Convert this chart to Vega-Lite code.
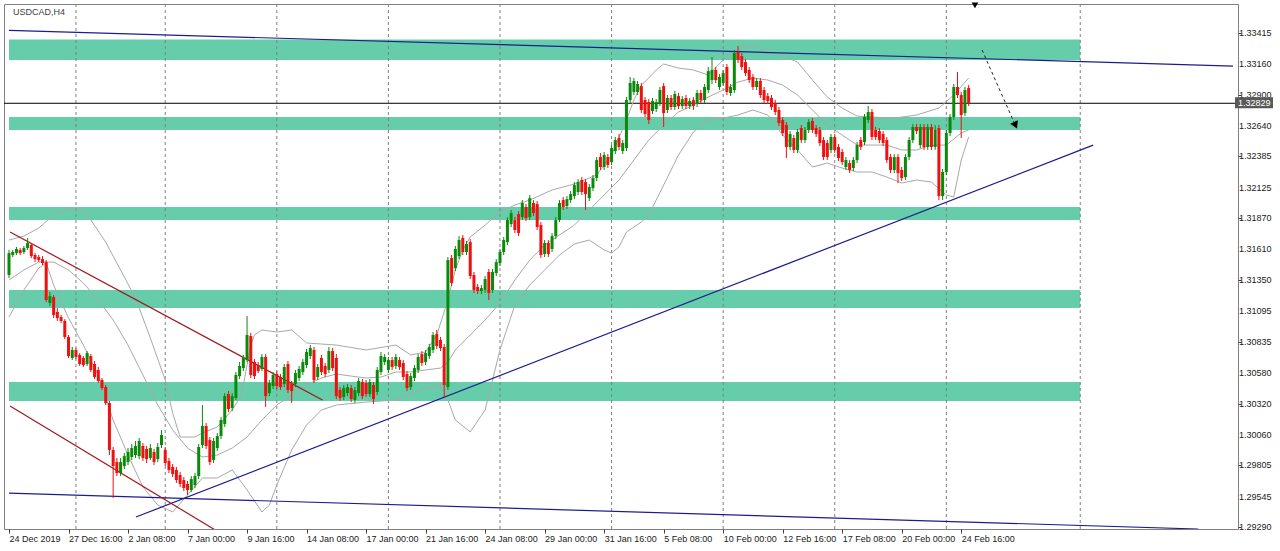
{
"$schema":"https://vega.github.io/schema/vega-lite/v6.json",
"width":1234,"height":525,
"autosize":{"type":"none"},
"padding":{"left":4,"top":4,"right":42,"bottom":22},
"background":"#ffffff",
"config":{"view":{"stroke":"#808080","strokeWidth":1},"axis":{"labelFont":"Liberation Sans","labelFontSize":9,"labelColor":"#1a1a1a","tickColor":"#404040","domain":false,"grid":false,"labelOverlap":false}},
"datasets":{
"zones":[{"x1":0,"x2":288,"p1":1.33361,"p2":1.3319},{"x1":0,"x2":288,"p1":1.32714,"p2":1.32606},{"x1":0,"x2":288,"p1":1.31963,"p2":1.31854},{"x1":0,"x2":288,"p1":1.3127,"p2":1.31119},{"x1":0,"x2":288,"p1":1.30501,"p2":1.30343}],
"grid":[{"i":18},{"i":42},{"i":72},{"i":102},{"i":132},{"i":162},{"i":192},{"i":222},{"i":252},{"i":288}],
"cur":[{"p":1.32829,"t":"1.32829"}],
"ylab":[{"p":1.33415,"t":"1.33415"},{"p":1.3316,"t":"1.33160"},{"p":1.329,"t":"1.32900"},{"p":1.3264,"t":"1.32640"},{"p":1.32385,"t":"1.32385"},{"p":1.32125,"t":"1.32125"},{"p":1.3187,"t":"1.31870"},{"p":1.3161,"t":"1.31610"},{"p":1.3135,"t":"1.31350"},{"p":1.31095,"t":"1.31095"},{"p":1.30835,"t":"1.30835"},{"p":1.3058,"t":"1.30580"},{"p":1.3032,"t":"1.30320"},{"p":1.3006,"t":"1.30060"},{"p":1.29805,"t":"1.29805"},{"p":1.29545,"t":"1.29545"},{"p":1.2929,"t":"1.29290"}],
"tl":[{"id":"top","k":"blue","i":0,"p":1.33438},{"id":"top","k":"blue","i":329.07,"p":1.3314},
{"id":"bot","k":"blue","i":0,"p":1.29574},{"id":"bot","k":"blue","i":319.7,"p":1.29274},
{"id":"rise","k":"blue","i":34.13,"p":1.29374},{"id":"rise","k":"blue","i":291.47,"p":1.3248},
{"id":"r1","k":"red","i":0.27,"p":1.31754},{"id":"r1","k":"red","i":84.27,"p":1.30351},
{"id":"r2","k":"red","i":0.27,"p":1.30301},{"id":"r2","k":"red","i":60,"p":1.2918}],
"arrow":[{"i":261.6,"p":1.33274},{"i":270.9,"p":1.32622}],
"head":[{"i":270.6,"p":1.32645}],
"marker":[{"i":259.7,"p":1.33646}],
"bb":[
{"b":"u","i":0,"p":1.31687},{"b":"u","i":4,"p":1.3172},{"b":"u","i":8,"p":1.31787},{"b":"u","i":12,"p":1.31896},{"b":"u","i":16,"p":1.31954},{"b":"u","i":20,"p":1.31921},{"b":"u","i":22,"p":1.31854},{"b":"u","i":26,"p":1.3167},{"b":"u","i":30,"p":1.31437},{"b":"u","i":34,"p":1.31203},{"b":"u","i":38,"p":1.30869},{"b":"u","i":42,"p":1.30518},{"b":"u","i":44,"p":1.30242},{"b":"u","i":46,"p":1.30042},{"b":"u","i":50,"p":1.30042},{"b":"u","i":52,"p":1.30076},{"b":"u","i":56,"p":1.30126},{"b":"u","i":60,"p":1.30268},{"b":"u","i":62,"p":1.30368},{"b":"u","i":63,"p":1.30476},{"b":"u","i":64,"p":1.30643},{"b":"u","i":65,"p":1.3081},{"b":"u","i":66,"p":1.30894},{"b":"u","i":68,"p":1.30936},{"b":"u","i":72,"p":1.30919},{"b":"u","i":76,"p":1.30936},{"b":"u","i":80,"p":1.30827},{"b":"u","i":88,"p":1.3081},{"b":"u","i":96,"p":1.30769},{"b":"u","i":104,"p":1.3081},{"b":"u","i":108,"p":1.30727},{"b":"u","i":112,"p":1.30752},{"b":"u","i":115,"p":1.30894},{"b":"u","i":118,"p":1.31186},{"b":"u","i":120,"p":1.31437},{"b":"u","i":122,"p":1.31604},{"b":"u","i":124,"p":1.31712},{"b":"u","i":128,"p":1.31812},{"b":"u","i":132,"p":1.31921},{"b":"u","i":136,"p":1.31979},{"b":"u","i":140,"p":1.32021},{"b":"u","i":146,"p":1.32105},{"b":"u","i":152,"p":1.32155},{"b":"u","i":158,"p":1.3223},{"b":"u","i":162,"p":1.32397},{"b":"u","i":166,"p":1.32689},{"b":"u","i":168,"p":1.32856},{"b":"u","i":170,"p":1.32981},{"b":"u","i":172,"p":1.3304},{"b":"u","i":174,"p":1.33107},{"b":"u","i":176,"p":1.33157},{"b":"u","i":180,"p":1.33123},{"b":"u","i":184,"p":1.33107},{"b":"u","i":188,"p":1.33065},{"b":"u","i":192,"p":1.3319},{"b":"u","i":196,"p":1.3329},{"b":"u","i":200,"p":1.33307},{"b":"u","i":204,"p":1.33274},{"b":"u","i":208,"p":1.33223},{"b":"u","i":212,"p":1.33173},{"b":"u","i":216,"p":1.33023},{"b":"u","i":220,"p":1.32881},{"b":"u","i":224,"p":1.32789},{"b":"u","i":228,"p":1.32722},{"b":"u","i":232,"p":1.32714},{"b":"u","i":238,"p":1.32705},{"b":"u","i":244,"p":1.32731},{"b":"u","i":250,"p":1.32789},{"b":"u","i":254,"p":1.32898},{"b":"u","i":258,"p":1.3304},
{"b":"m","i":0,"p":1.31353},{"b":"m","i":4,"p":1.31437},{"b":"m","i":8,"p":1.31503},{"b":"m","i":12,"p":1.31503},{"b":"m","i":16,"p":1.31437},{"b":"m","i":20,"p":1.31328},{"b":"m","i":24,"p":1.31186},{"b":"m","i":28,"p":1.31019},{"b":"m","i":32,"p":1.3081},{"b":"m","i":36,"p":1.3056},{"b":"m","i":40,"p":1.30309},{"b":"m","i":44,"p":1.30101},{"b":"m","i":48,"p":1.2995},{"b":"m","i":52,"p":1.29875},{"b":"m","i":56,"p":1.29892},{"b":"m","i":60,"p":1.2995},{"b":"m","i":64,"p":1.30042},{"b":"m","i":68,"p":1.30184},{"b":"m","i":72,"p":1.30309},{"b":"m","i":76,"p":1.30393},{"b":"m","i":80,"p":1.30476},{"b":"m","i":84,"p":1.30535},{"b":"m","i":88,"p":1.30568},{"b":"m","i":92,"p":1.30551},{"b":"m","i":96,"p":1.30535},{"b":"m","i":100,"p":1.30543},{"b":"m","i":104,"p":1.30585},{"b":"m","i":108,"p":1.30585},{"b":"m","i":112,"p":1.30602},{"b":"m","i":116,"p":1.30618},{"b":"m","i":118,"p":1.30668},{"b":"m","i":120,"p":1.30769},{"b":"m","i":124,"p":1.30894},{"b":"m","i":128,"p":1.31019},{"b":"m","i":132,"p":1.31161},{"b":"m","i":136,"p":1.31353},{"b":"m","i":140,"p":1.3152},{"b":"m","i":144,"p":1.31645},{"b":"m","i":148,"p":1.31729},{"b":"m","i":152,"p":1.31812},{"b":"m","i":156,"p":1.31938},{"b":"m","i":160,"p":1.32063},{"b":"m","i":164,"p":1.32188},{"b":"m","i":168,"p":1.32355},{"b":"m","i":172,"p":1.32522},{"b":"m","i":176,"p":1.32647},{"b":"m","i":180,"p":1.32756},{"b":"m","i":184,"p":1.32814},{"b":"m","i":188,"p":1.32881},{"b":"m","i":192,"p":1.3294},{"b":"m","i":196,"p":1.33006},{"b":"m","i":200,"p":1.3304},{"b":"m","i":204,"p":1.33023},{"b":"m","i":208,"p":1.32981},{"b":"m","i":212,"p":1.32898},{"b":"m","i":216,"p":1.32773},{"b":"m","i":220,"p":1.32647},{"b":"m","i":224,"p":1.32564},{"b":"m","i":228,"p":1.3248},{"b":"m","i":232,"p":1.3248},{"b":"m","i":236,"p":1.3248},{"b":"m","i":240,"p":1.32439},{"b":"m","i":244,"p":1.32439},{"b":"m","i":248,"p":1.3248},{"b":"m","i":252,"p":1.3248},{"b":"m","i":256,"p":1.32581},{"b":"m","i":258,"p":1.32606},
{"b":"l","i":0,"p":1.31044},{"b":"l","i":4,"p":1.3127},{"b":"l","i":8,"p":1.31453},{"b":"l","i":10,"p":1.31495},{"b":"l","i":12,"p":1.31311},{"b":"l","i":16,"p":1.31036},{"b":"l","i":20,"p":1.3081},{"b":"l","i":24,"p":1.3056},{"b":"l","i":28,"p":1.30184},{"b":"l","i":32,"p":1.29892},{"b":"l","i":36,"p":1.29625},{"b":"l","i":40,"p":1.29474},{"b":"l","i":44,"p":1.29416},{"b":"l","i":48,"p":1.29558},{"b":"l","i":52,"p":1.297},{"b":"l","i":56,"p":1.297},{"b":"l","i":60,"p":1.29767},{"b":"l","i":64,"p":1.296},{"b":"l","i":68,"p":1.29416},{"b":"l","i":70,"p":1.29474},{"b":"l","i":72,"p":1.29641},{"b":"l","i":76,"p":1.29934},{"b":"l","i":80,"p":1.30142},{"b":"l","i":84,"p":1.30268},{"b":"l","i":88,"p":1.30309},{"b":"l","i":96,"p":1.30334},{"b":"l","i":104,"p":1.30351},{"b":"l","i":112,"p":1.30451},{"b":"l","i":116,"p":1.30476},{"b":"l","i":118,"p":1.30351},{"b":"l","i":120,"p":1.30184},{"b":"l","i":124,"p":1.30084},{"b":"l","i":128,"p":1.30268},{"b":"l","i":132,"p":1.30769},{"b":"l","i":136,"p":1.31144},{"b":"l","i":140,"p":1.31311},{"b":"l","i":144,"p":1.31437},{"b":"l","i":148,"p":1.31562},{"b":"l","i":152,"p":1.31654},{"b":"l","i":156,"p":1.31687},{"b":"l","i":160,"p":1.31604},{"b":"l","i":162,"p":1.31578},{"b":"l","i":164,"p":1.31629},{"b":"l","i":166,"p":1.31754},{"b":"l","i":170,"p":1.31837},{"b":"l","i":172,"p":1.31896},{"b":"l","i":176,"p":1.32146},{"b":"l","i":180,"p":1.32397},{"b":"l","i":184,"p":1.32589},{"b":"l","i":188,"p":1.32689},{"b":"l","i":192,"p":1.32705},{"b":"l","i":196,"p":1.32731},{"b":"l","i":200,"p":1.32773},{"b":"l","i":204,"p":1.32731},{"b":"l","i":208,"p":1.32564},{"b":"l","i":212,"p":1.32439},{"b":"l","i":216,"p":1.32297},{"b":"l","i":220,"p":1.3233},{"b":"l","i":224,"p":1.32288},{"b":"l","i":228,"p":1.32255},{"b":"l","i":232,"p":1.32255},{"b":"l","i":236,"p":1.32213},{"b":"l","i":240,"p":1.32163},{"b":"l","i":244,"p":1.32188},{"b":"l","i":248,"p":1.32171},{"b":"l","i":252,"p":1.32063},{"b":"l","i":254,"p":1.32046},{"b":"l","i":256,"p":1.32355},{"b":"l","i":258,"p":1.32547}],
"candles":[
{"i":0,"o":1.31395,"h":1.31604,"l":1.3137,"c":1.31578},{"i":1,"o":1.31562,"h":1.31604,"l":1.31545,"c":1.31587},{"i":2,"o":1.31578,"h":1.31629,"l":1.31562,"c":1.31612},{"i":3,"o":1.31604,"h":1.3162,"l":1.31562,"c":1.31578},{"i":4,"o":1.31587,"h":1.31637,"l":1.3157,"c":1.3162},{"i":5,"o":1.3162,"h":1.31704,"l":1.31604,"c":1.31662},{"i":6,"o":1.31645,"h":1.31662,"l":1.31537,"c":1.31553},{"i":7,"o":1.31562,"h":1.31578,"l":1.31503,"c":1.31528},{"i":8,"o":1.31545,"h":1.31562,"l":1.31503,"c":1.3152},{"i":9,"o":1.31528,"h":1.31553,"l":1.31478,"c":1.31495},
{"i":10,"o":1.31503,"h":1.3152,"l":1.31169,"c":1.31186},{"i":11,"o":1.31161,"h":1.31253,"l":1.31136,"c":1.31219},{"i":12,"o":1.31211,"h":1.31228,"l":1.31036,"c":1.31061},{"i":13,"o":1.31086,"h":1.31119,"l":1.31011,"c":1.31036},{"i":14,"o":1.31044,"h":1.31061,"l":1.30994,"c":1.31011},{"i":15,"o":1.31011,"h":1.31027,"l":1.3086,"c":1.30877},{"i":16,"o":1.30877,"h":1.30894,"l":1.30702,"c":1.30718},{"i":17,"o":1.30702,"h":1.30794,"l":1.30685,"c":1.30769},{"i":18,"o":1.30769,"h":1.30785,"l":1.30693,"c":1.3071},{"i":19,"o":1.30727,"h":1.30743,"l":1.30635,"c":1.30652},
{"i":20,"o":1.30702,"h":1.30718,"l":1.30627,"c":1.30643},{"i":21,"o":1.30652,"h":1.3076,"l":1.30635,"c":1.30743},{"i":22,"o":1.30718,"h":1.30735,"l":1.30585,"c":1.30602},{"i":23,"o":1.30652,"h":1.30677,"l":1.30526,"c":1.30543},{"i":24,"o":1.30602,"h":1.30627,"l":1.30493,"c":1.3051},{"i":25,"o":1.30518,"h":1.30535,"l":1.30435,"c":1.30451},{"i":26,"o":1.30459,"h":1.30476,"l":1.30309,"c":1.30326},{"i":27,"o":1.30326,"h":1.30343,"l":1.29892,"c":1.29934},{"i":28,"o":1.29934,"h":1.29959,"l":1.29533,"c":1.298},{"i":29,"o":1.29833,"h":1.29867,"l":1.29716,"c":1.29741},
{"i":30,"o":1.29741,"h":1.29867,"l":1.29716,"c":1.29833},{"i":31,"o":1.298,"h":1.29909,"l":1.29775,"c":1.29883},{"i":32,"o":1.29833,"h":1.2995,"l":1.29808,"c":1.29917},{"i":33,"o":1.29875,"h":1.29984,"l":1.2985,"c":1.2995},{"i":34,"o":1.29892,"h":1.30009,"l":1.29867,"c":1.29967},{"i":35,"o":1.29883,"h":1.30034,"l":1.29858,"c":1.30009},{"i":36,"o":1.29967,"h":1.29992,"l":1.29842,"c":1.29867},{"i":37,"o":1.29942,"h":1.29967,"l":1.29825,"c":1.29858},{"i":38,"o":1.29867,"h":1.29984,"l":1.2985,"c":1.2995},{"i":39,"o":1.29917,"h":1.29942,"l":1.29808,"c":1.29833},
{"i":40,"o":1.29858,"h":1.29992,"l":1.29833,"c":1.29959},{"i":41,"o":1.29975,"h":1.30101,"l":1.2995,"c":1.30059},{"i":42,"o":1.29934,"h":1.29959,"l":1.298,"c":1.29825},{"i":43,"o":1.29842,"h":1.29867,"l":1.29741,"c":1.29767},{"i":44,"o":1.29792,"h":1.29817,"l":1.29708,"c":1.29733},{"i":45,"o":1.29767,"h":1.29792,"l":1.29658,"c":1.29683},{"i":46,"o":1.29725,"h":1.2975,"l":1.29625,"c":1.2965},{"i":47,"o":1.29683,"h":1.29708,"l":1.29591,"c":1.29616},{"i":48,"o":1.2965,"h":1.29675,"l":1.29558,"c":1.296},{"i":49,"o":1.296,"h":1.29716,"l":1.29583,"c":1.29691},
{"i":50,"o":1.29641,"h":1.29741,"l":1.29616,"c":1.29716},{"i":51,"o":1.29716,"h":1.29984,"l":1.29691,"c":1.29959},{"i":52,"o":1.29975,"h":1.30309,"l":1.2995,"c":1.30134},{"i":53,"o":1.30134,"h":1.30159,"l":1.29942,"c":1.29967},{"i":54,"o":1.30017,"h":1.30042,"l":1.29808,"c":1.29833},{"i":55,"o":1.2985,"h":1.30034,"l":1.29825,"c":1.30009},{"i":56,"o":1.2995,"h":1.30075,"l":1.29925,"c":1.3005},{"i":57,"o":1.3005,"h":1.30209,"l":1.30025,"c":1.30184},{"i":58,"o":1.30151,"h":1.30409,"l":1.30126,"c":1.30384},{"i":59,"o":1.30401,"h":1.30426,"l":1.30251,"c":1.30276},
{"i":60,"o":1.30284,"h":1.30409,"l":1.30259,"c":1.30384},{"i":61,"o":1.30368,"h":1.30585,"l":1.30351,"c":1.3056},{"i":62,"o":1.30551,"h":1.30668,"l":1.30526,"c":1.30635},{"i":63,"o":1.30618,"h":1.30727,"l":1.30593,"c":1.30702},{"i":64,"o":1.30685,"h":1.31052,"l":1.30668,"c":1.30894},{"i":65,"o":1.30885,"h":1.30911,"l":1.30535,"c":1.3056},{"i":66,"o":1.30668,"h":1.30693,"l":1.30526,"c":1.30551},{"i":67,"o":1.30643,"h":1.30668,"l":1.30576,"c":1.30593},{"i":68,"o":1.3061,"h":1.30735,"l":1.30593,"c":1.3071},{"i":69,"o":1.3071,"h":1.30735,"l":1.30293,"c":1.30384},
{"i":70,"o":1.30409,"h":1.30518,"l":1.30384,"c":1.30493},{"i":71,"o":1.30468,"h":1.30585,"l":1.30443,"c":1.3056},{"i":72,"o":1.30568,"h":1.30593,"l":1.30443,"c":1.30468},{"i":73,"o":1.30543,"h":1.30568,"l":1.30435,"c":1.30459},{"i":74,"o":1.30485,"h":1.30652,"l":1.30459,"c":1.30627},{"i":75,"o":1.30652,"h":1.30677,"l":1.30409,"c":1.30435},{"i":76,"o":1.30485,"h":1.3051,"l":1.30326,"c":1.30426},{"i":77,"o":1.30485,"h":1.30602,"l":1.30459,"c":1.30576},{"i":78,"o":1.30535,"h":1.30635,"l":1.3051,"c":1.3061},{"i":79,"o":1.30585,"h":1.30693,"l":1.3056,"c":1.30668},
{"i":80,"o":1.30643,"h":1.30777,"l":1.30618,"c":1.30752},{"i":81,"o":1.30718,"h":1.3081,"l":1.30693,"c":1.30785},{"i":82,"o":1.30769,"h":1.30794,"l":1.30493,"c":1.30518},{"i":83,"o":1.30543,"h":1.30652,"l":1.30518,"c":1.30627},{"i":84,"o":1.30702,"h":1.30727,"l":1.3056,"c":1.30585},{"i":85,"o":1.30635,"h":1.3066,"l":1.30543,"c":1.30568},{"i":86,"o":1.30602,"h":1.30794,"l":1.30576,"c":1.3076},{"i":87,"o":1.3076,"h":1.30785,"l":1.30593,"c":1.30618},{"i":88,"o":1.30702,"h":1.30735,"l":1.30359,"c":1.30384},{"i":89,"o":1.30435,"h":1.30459,"l":1.30343,"c":1.30368},
{"i":90,"o":1.30376,"h":1.30476,"l":1.30351,"c":1.30451},{"i":91,"o":1.30409,"h":1.30485,"l":1.30384,"c":1.30459},{"i":92,"o":1.30451,"h":1.30476,"l":1.30334,"c":1.30359},{"i":93,"o":1.30351,"h":1.30459,"l":1.30326,"c":1.30435},{"i":94,"o":1.30409,"h":1.30535,"l":1.30384,"c":1.3051},{"i":95,"o":1.30501,"h":1.30526,"l":1.30359,"c":1.30384},{"i":96,"o":1.30493,"h":1.30518,"l":1.30376,"c":1.30401},{"i":97,"o":1.30401,"h":1.30526,"l":1.30376,"c":1.30501},{"i":98,"o":1.30476,"h":1.30501,"l":1.30318,"c":1.30359},{"i":99,"o":1.30418,"h":1.30627,"l":1.30393,"c":1.30602},
{"i":100,"o":1.30585,"h":1.30752,"l":1.3056,"c":1.30718},{"i":101,"o":1.30668,"h":1.30735,"l":1.30643,"c":1.3071},{"i":102,"o":1.30602,"h":1.3071,"l":1.30576,"c":1.30685},{"i":103,"o":1.30685,"h":1.3071,"l":1.30602,"c":1.30627},{"i":104,"o":1.30635,"h":1.30735,"l":1.3061,"c":1.3071},{"i":105,"o":1.30685,"h":1.3071,"l":1.30602,"c":1.30627},{"i":106,"o":1.3066,"h":1.30685,"l":1.30518,"c":1.30543},{"i":107,"o":1.30568,"h":1.30593,"l":1.30426,"c":1.30451},{"i":108,"o":1.30459,"h":1.30576,"l":1.30435,"c":1.30551},{"i":109,"o":1.30535,"h":1.30643,"l":1.3051,"c":1.30618},
{"i":110,"o":1.30602,"h":1.30735,"l":1.30576,"c":1.3071},{"i":111,"o":1.30735,"h":1.3076,"l":1.30635,"c":1.3066},{"i":112,"o":1.30668,"h":1.30769,"l":1.30643,"c":1.30743},{"i":113,"o":1.30718,"h":1.30819,"l":1.30693,"c":1.30794},{"i":114,"o":1.30769,"h":1.30919,"l":1.30743,"c":1.30894},{"i":115,"o":1.30902,"h":1.30936,"l":1.30777,"c":1.30802},{"i":116,"o":1.30852,"h":1.30877,"l":1.3076,"c":1.30785},{"i":117,"o":1.30794,"h":1.30819,"l":1.30376,"c":1.30476},{"i":118,"o":1.30459,"h":1.31545,"l":1.30435,"c":1.3152},{"i":119,"o":1.31537,"h":1.31562,"l":1.31303,"c":1.31328},
{"i":120,"o":1.31453,"h":1.31637,"l":1.31428,"c":1.31612},{"i":121,"o":1.31553,"h":1.3172,"l":1.31528,"c":1.31687},{"i":122,"o":1.31704,"h":1.31729,"l":1.31562,"c":1.31587},{"i":123,"o":1.31587,"h":1.31679,"l":1.31562,"c":1.31654},{"i":124,"o":1.3167,"h":1.31695,"l":1.31361,"c":1.31386},{"i":125,"o":1.31395,"h":1.3142,"l":1.31245,"c":1.3127},{"i":126,"o":1.31296,"h":1.3132,"l":1.31236,"c":1.31261},{"i":127,"o":1.31261,"h":1.31311,"l":1.31236,"c":1.31286},{"i":128,"o":1.3127,"h":1.31386,"l":1.31245,"c":1.31361},{"i":129,"o":1.3142,"h":1.31445,"l":1.31186,"c":1.31245},
{"i":130,"o":1.3127,"h":1.31445,"l":1.31245,"c":1.3142},{"i":131,"o":1.31411,"h":1.31528,"l":1.31386,"c":1.31503},{"i":132,"o":1.31495,"h":1.31612,"l":1.3147,"c":1.31587},{"i":133,"o":1.31587,"h":1.31712,"l":1.31562,"c":1.31687},{"i":134,"o":1.3167,"h":1.31879,"l":1.31645,"c":1.31854},{"i":135,"o":1.31821,"h":1.31938,"l":1.31796,"c":1.31912},{"i":136,"o":1.31854,"h":1.31879,"l":1.31745,"c":1.31771},{"i":137,"o":1.31904,"h":1.31929,"l":1.3172,"c":1.31745},{"i":138,"o":1.31879,"h":1.32021,"l":1.31854,"c":1.31996},{"i":139,"o":1.31963,"h":1.31988,"l":1.31845,"c":1.31871},
{"i":140,"o":1.31879,"h":1.32063,"l":1.31854,"c":1.32037},{"i":141,"o":1.31996,"h":1.32021,"l":1.31887,"c":1.31912},{"i":142,"o":1.31988,"h":1.32013,"l":1.31771,"c":1.31796},{"i":143,"o":1.31812,"h":1.31837,"l":1.31537,"c":1.31562},{"i":144,"o":1.3157,"h":1.31687,"l":1.31545,"c":1.31662},{"i":145,"o":1.31662,"h":1.31687,"l":1.31545,"c":1.3157},{"i":146,"o":1.31612,"h":1.31745,"l":1.31587,"c":1.3172},{"i":147,"o":1.3172,"h":1.31879,"l":1.31695,"c":1.31854},{"i":148,"o":1.31854,"h":1.32021,"l":1.31837,"c":1.31996},{"i":149,"o":1.32021,"h":1.32046,"l":1.31938,"c":1.31963},
{"i":150,"o":1.31971,"h":1.32054,"l":1.31946,"c":1.32029},{"i":151,"o":1.32021,"h":1.32096,"l":1.31996,"c":1.32071},{"i":152,"o":1.32054,"h":1.32171,"l":1.32029,"c":1.32146},{"i":153,"o":1.32088,"h":1.32196,"l":1.32063,"c":1.32171},{"i":154,"o":1.32188,"h":1.32213,"l":1.32063,"c":1.32088},{"i":155,"o":1.32171,"h":1.32196,"l":1.31938,"c":1.32071},{"i":156,"o":1.32037,"h":1.32155,"l":1.32013,"c":1.3213},{"i":157,"o":1.32121,"h":1.3223,"l":1.32096,"c":1.32205},{"i":158,"o":1.32205,"h":1.3238,"l":1.3218,"c":1.32355},{"i":159,"o":1.3238,"h":1.32413,"l":1.32272,"c":1.32297},
{"i":160,"o":1.32297,"h":1.32422,"l":1.32272,"c":1.32397},{"i":161,"o":1.3238,"h":1.32405,"l":1.32288,"c":1.32313},{"i":162,"o":1.32338,"h":1.3248,"l":1.32313,"c":1.32455},{"i":163,"o":1.3243,"h":1.32547,"l":1.32405,"c":1.32522},{"i":164,"o":1.32539,"h":1.32572,"l":1.32439,"c":1.32464},{"i":165,"o":1.3243,"h":1.32522,"l":1.32405,"c":1.32497},{"i":166,"o":1.32455,"h":1.32881,"l":1.3243,"c":1.32856},{"i":167,"o":1.32856,"h":1.33048,"l":1.32831,"c":1.32998},{"i":168,"o":1.32923,"h":1.3304,"l":1.32898,"c":1.33015},{"i":169,"o":1.32923,"h":1.33015,"l":1.32898,"c":1.3299},
{"i":170,"o":1.32973,"h":1.32998,"l":1.32747,"c":1.32773},{"i":171,"o":1.32856,"h":1.32881,"l":1.32714,"c":1.32739},{"i":172,"o":1.32839,"h":1.32864,"l":1.32656,"c":1.32689},{"i":173,"o":1.32764,"h":1.32873,"l":1.32739,"c":1.32848},{"i":174,"o":1.32781,"h":1.32864,"l":1.32756,"c":1.32839},{"i":175,"o":1.32831,"h":1.32965,"l":1.32806,"c":1.3294},{"i":176,"o":1.32973,"h":1.32998,"l":1.32631,"c":1.32747},{"i":177,"o":1.32773,"h":1.32898,"l":1.32747,"c":1.32873},{"i":178,"o":1.32873,"h":1.32898,"l":1.32773,"c":1.32798},{"i":179,"o":1.32798,"h":1.32931,"l":1.32773,"c":1.32906},
{"i":180,"o":1.32889,"h":1.32915,"l":1.32781,"c":1.32806},{"i":181,"o":1.32806,"h":1.32889,"l":1.32781,"c":1.32864},{"i":182,"o":1.32873,"h":1.32898,"l":1.32781,"c":1.32806},{"i":183,"o":1.32806,"h":1.32873,"l":1.32781,"c":1.32848},{"i":184,"o":1.32856,"h":1.32881,"l":1.32773,"c":1.32806},{"i":185,"o":1.32823,"h":1.3294,"l":1.32798,"c":1.32915},{"i":186,"o":1.32915,"h":1.3294,"l":1.32831,"c":1.32856},{"i":187,"o":1.32856,"h":1.3299,"l":1.32831,"c":1.32965},{"i":188,"o":1.3294,"h":1.33132,"l":1.32915,"c":1.33098},{"i":189,"o":1.33023,"h":1.33215,"l":1.3299,"c":1.33107},
{"i":190,"o":1.33107,"h":1.33132,"l":1.32998,"c":1.33023},{"i":191,"o":1.32965,"h":1.33073,"l":1.3294,"c":1.33048},{"i":192,"o":1.32998,"h":1.33107,"l":1.32973,"c":1.33081},{"i":193,"o":1.33132,"h":1.33157,"l":1.32898,"c":1.32923},{"i":194,"o":1.32915,"h":1.3299,"l":1.32889,"c":1.32965},{"i":195,"o":1.3294,"h":1.33274,"l":1.32915,"c":1.33248},{"i":196,"o":1.33257,"h":1.33307,"l":1.33165,"c":1.3319},{"i":197,"o":1.33223,"h":1.33248,"l":1.33107,"c":1.33132},{"i":198,"o":1.33173,"h":1.33198,"l":1.33056,"c":1.33081},{"i":199,"o":1.33107,"h":1.33132,"l":1.32998,"c":1.33023},
{"i":200,"o":1.33048,"h":1.33073,"l":1.3294,"c":1.32965},{"i":201,"o":1.32965,"h":1.3304,"l":1.3294,"c":1.33015},{"i":202,"o":1.33015,"h":1.3304,"l":1.32873,"c":1.32898},{"i":203,"o":1.3294,"h":1.32965,"l":1.32831,"c":1.32856},{"i":204,"o":1.32889,"h":1.32915,"l":1.32823,"c":1.32848},{"i":205,"o":1.32873,"h":1.32898,"l":1.32773,"c":1.32798},{"i":206,"o":1.32831,"h":1.32856,"l":1.32731,"c":1.32756},{"i":207,"o":1.32773,"h":1.32798,"l":1.32639,"c":1.32664},{"i":208,"o":1.32689,"h":1.32714,"l":1.32556,"c":1.32581},{"i":209,"o":1.32647,"h":1.32672,"l":1.32372,"c":1.32464},
{"i":210,"o":1.32464,"h":1.32597,"l":1.32439,"c":1.32572},{"i":211,"o":1.32539,"h":1.32564,"l":1.32413,"c":1.32439},{"i":212,"o":1.32439,"h":1.32614,"l":1.32413,"c":1.32589},{"i":213,"o":1.32622,"h":1.32647,"l":1.32497,"c":1.32522},{"i":214,"o":1.32522,"h":1.32631,"l":1.32497,"c":1.32606},{"i":215,"o":1.32606,"h":1.32697,"l":1.32581,"c":1.32672},{"i":216,"o":1.32681,"h":1.32705,"l":1.32581,"c":1.32606},{"i":217,"o":1.32622,"h":1.32647,"l":1.32547,"c":1.32572},{"i":218,"o":1.32606,"h":1.32631,"l":1.32472,"c":1.32497},{"i":219,"o":1.32522,"h":1.32547,"l":1.32355,"c":1.3238},
{"i":220,"o":1.32497,"h":1.32522,"l":1.32355,"c":1.3238},{"i":221,"o":1.32439,"h":1.32572,"l":1.32413,"c":1.32547},{"i":222,"o":1.32547,"h":1.32572,"l":1.32413,"c":1.32439},{"i":223,"o":1.32464,"h":1.32489,"l":1.32347,"c":1.32372},{"i":224,"o":1.32422,"h":1.32447,"l":1.32313,"c":1.32338},{"i":225,"o":1.32297,"h":1.3238,"l":1.32272,"c":1.32355},{"i":226,"o":1.3233,"h":1.32355,"l":1.32246,"c":1.32272},{"i":227,"o":1.32288,"h":1.3238,"l":1.32263,"c":1.32355},{"i":228,"o":1.32355,"h":1.32505,"l":1.3233,"c":1.3248},{"i":229,"o":1.32522,"h":1.32547,"l":1.32439,"c":1.32464},
{"i":230,"o":1.32505,"h":1.32739,"l":1.3248,"c":1.32714},{"i":231,"o":1.32689,"h":1.32806,"l":1.32664,"c":1.32756},{"i":232,"o":1.32756,"h":1.32781,"l":1.32522,"c":1.32547},{"i":233,"o":1.32606,"h":1.32631,"l":1.32522,"c":1.32547},{"i":234,"o":1.32597,"h":1.32622,"l":1.32497,"c":1.32522},{"i":235,"o":1.32572,"h":1.32597,"l":1.32472,"c":1.32497},{"i":236,"o":1.32522,"h":1.32547,"l":1.3233,"c":1.32355},{"i":237,"o":1.3238,"h":1.32405,"l":1.32246,"c":1.32272},{"i":238,"o":1.32272,"h":1.32405,"l":1.32246,"c":1.3238},{"i":239,"o":1.3238,"h":1.32405,"l":1.32163,"c":1.32246},
{"i":240,"o":1.32272,"h":1.32297,"l":1.3218,"c":1.32205},{"i":241,"o":1.32213,"h":1.32405,"l":1.32188,"c":1.3238},{"i":242,"o":1.3238,"h":1.32547,"l":1.32355,"c":1.32522},{"i":243,"o":1.32522,"h":1.32656,"l":1.32497,"c":1.32631},{"i":244,"o":1.32631,"h":1.32656,"l":1.32572,"c":1.32597},{"i":245,"o":1.3248,"h":1.32656,"l":1.32455,"c":1.32631},{"i":246,"o":1.32631,"h":1.32656,"l":1.32439,"c":1.32464},{"i":247,"o":1.32464,"h":1.32656,"l":1.32439,"c":1.32631},{"i":248,"o":1.32631,"h":1.32656,"l":1.32439,"c":1.32464},{"i":249,"o":1.32464,"h":1.32647,"l":1.32439,"c":1.32606},
{"i":250,"o":1.32622,"h":1.32647,"l":1.32021,"c":1.32054},{"i":251,"o":1.32054,"h":1.3228,"l":1.32021,"c":1.32255},{"i":252,"o":1.32255,"h":1.32606,"l":1.3223,"c":1.32581},{"i":253,"o":1.32581,"h":1.32739,"l":1.32556,"c":1.32714},{"i":254,"o":1.32714,"h":1.3299,"l":1.32689,"c":1.32965},{"i":255,"o":1.32965,"h":1.3309,"l":1.32873,"c":1.32898},{"i":256,"o":1.32898,"h":1.32923,"l":1.32539,"c":1.32731},{"i":257,"o":1.32747,"h":1.32965,"l":1.32722,"c":1.3294},{"i":258,"o":1.32956,"h":1.32981,"l":1.32806,"c":1.32829}]
},
"layer":[
{"data":{"name":"zones"},"mark":{"type":"rect","color":"#66cdaa","clip":true},
 "encoding":{
  "x":{"field":"x1","type":"quantitative","title":null,"scale":{"domain":[0,329.07],"nice":false,"zero":false},
   "axis":{"orient":"bottom","values":[0,16,32,48,64,80,96,112,128,144,160,176,192,208,224,240,256],"labelExpr":"['24 Dec 2019','27 Dec 16:00','2 Jan 08:00','7 Jan 00:00','9 Jan 16:00','14 Jan 08:00','17 Jan 00:00','21 Jan 16:00','24 Jan 08:00','29 Jan 00:00','31 Jan 16:00','5 Feb 08:00','10 Feb 00:00','12 Feb 16:00','17 Feb 08:00','20 Feb 00:00','24 Feb 16:00'][round(datum.value/16)]","labelAlign":"left","tickSize":4,"labelPadding":1,"labelOverlap":false,"labelFlush":false}},
  "x2":{"field":"x2"},
  "y":{"field":"p1","type":"quantitative","title":null,"scale":{"domain":[1.29274,1.33658],"nice":false,"zero":false},
   "axis":{"orient":"right","values":[1.33415,1.3316,1.329,1.3264,1.32385,1.32125,1.3187,1.3161,1.3135,1.31095,1.30835,1.3058,1.3032,1.3006,1.29805,1.29545,1.2929],"labels":false,"tickSize":3}},
  "y2":{"field":"p2"}}},
{"data":{"name":"grid"},"mark":{"type":"rule","color":"#808080","strokeWidth":1,"strokeDash":[3,3]},
 "encoding":{"x":{"field":"i","type":"quantitative","title":null,"scale":{"domain":[0,329.07],"nice":false,"zero":false}}}},
{"data":{"name":"cur"},"mark":{"type":"rule","color":"#000000","strokeWidth":1},
 "encoding":{"y":{"field":"p","type":"quantitative","title":null,"scale":{"domain":[1.29274,1.33658],"nice":false,"zero":false}}}},
{"data":{"name":"bb"},"mark":{"type":"line","color":"#a8a8a8","strokeWidth":1,"clip":true},
 "encoding":{"x":{"field":"i","type":"quantitative","title":null,"scale":{"domain":[0,329.07],"nice":false,"zero":false}},
  "y":{"field":"p","type":"quantitative","title":null,"scale":{"domain":[1.29274,1.33658],"nice":false,"zero":false}},
  "detail":{"field":"b"}}},
{"data":{"name":"tl"},"mark":{"type":"line","strokeWidth":1.2,"clip":true},
 "encoding":{"x":{"field":"i","type":"quantitative","title":null,"scale":{"domain":[0,329.07],"nice":false,"zero":false}},
  "y":{"field":"p","type":"quantitative","title":null,"scale":{"domain":[1.29274,1.33658],"nice":false,"zero":false}},
  "detail":{"field":"id"},
  "color":{"field":"k","type":"nominal","scale":{"domain":["blue","red"],"range":["#1c1c8e","#a3161c"]},"legend":null}}},
{"data":{"name":"candles"},"mark":{"type":"rule","strokeWidth":1,"clip":true},
 "encoding":{"x":{"field":"i","type":"quantitative","title":null,"scale":{"domain":[0,329.07],"nice":false,"zero":false}},
  "y":{"field":"l","type":"quantitative","title":null,"scale":{"domain":[1.29274,1.33658],"nice":false,"zero":false}},
  "y2":{"field":"h"},
  "color":{"condition":{"test":"datum.c >= datum.o","value":"#0a8a0a"},"value":"#f01010"}}},
{"data":{"name":"candles"},"mark":{"type":"bar","size":3,"clip":true},
 "encoding":{"x":{"field":"i","type":"quantitative","title":null,"scale":{"domain":[0,329.07],"nice":false,"zero":false}},
  "y":{"field":"o","type":"quantitative","title":null,"scale":{"domain":[1.29274,1.33658],"nice":false,"zero":false}},
  "y2":{"field":"c"},
  "color":{"condition":{"test":"datum.c >= datum.o","value":"#0a8a0a"},"value":"#f01010"}}},
{"data":{"name":"arrow"},"mark":{"type":"line","color":"#202020","strokeWidth":1,"strokeDash":[3,3]},
 "encoding":{"x":{"field":"i","type":"quantitative","title":null,"scale":{"domain":[0,329.07],"nice":false,"zero":false}},
  "y":{"field":"p","type":"quantitative","title":null,"scale":{"domain":[1.29274,1.33658],"nice":false,"zero":false}}}},
{"data":{"name":"head"},"mark":{"type":"point","shape":"triangle-down","filled":true,"color":"#000000","size":70,"angle":-24,"opacity":1},
 "encoding":{"x":{"field":"i","type":"quantitative","title":null,"scale":{"domain":[0,329.07],"nice":false,"zero":false}},
  "y":{"field":"p","type":"quantitative","title":null,"scale":{"domain":[1.29274,1.33658],"nice":false,"zero":false}}}},
{"data":{"name":"marker"},"mark":{"type":"point","shape":"triangle-down","filled":true,"color":"#000000","size":45,"opacity":1},
 "encoding":{"x":{"field":"i","type":"quantitative","title":null,"scale":{"domain":[0,329.07],"nice":false,"zero":false}},
  "y":{"field":"p","type":"quantitative","title":null,"scale":{"domain":[1.29274,1.33658],"nice":false,"zero":false}}}},
{"data":{"name":"ylab"},"mark":{"type":"text","color":"#1a1a1a","font":"Liberation Sans","fontSize":9,"align":"left","baseline":"middle","dx":6},
 "encoding":{"x":{"datum":329.07,"type":"quantitative","scale":{"domain":[0,329.07],"nice":false,"zero":false}},
  "y":{"field":"p","type":"quantitative","title":null,"scale":{"domain":[1.29274,1.33658],"nice":false,"zero":false}},
  "text":{"field":"t"}}},
{"data":{"name":"cur"},"mark":{"type":"rect","color":"#595959","xOffset":2,"x2Offset":40,"yOffset":-6,"y2Offset":5},
 "encoding":{"x":{"datum":329.07,"type":"quantitative","scale":{"domain":[0,329.07],"nice":false,"zero":false}},
  "x2":{"datum":329.07},
  "y":{"field":"p","type":"quantitative","title":null,"scale":{"domain":[1.29274,1.33658],"nice":false,"zero":false}},
  "y2":{"field":"p"}}},
{"data":{"name":"cur"},"mark":{"type":"text","color":"#ffffff","font":"Liberation Sans","fontSize":9,"align":"left","baseline":"middle","dx":5},
 "encoding":{"x":{"datum":329.07,"type":"quantitative","scale":{"domain":[0,329.07],"nice":false,"zero":false}},
  "y":{"field":"p","type":"quantitative","title":null,"scale":{"domain":[1.29274,1.33658],"nice":false,"zero":false}},
  "text":{"field":"t"}}},
{"data":{"values":[{"t":"USDCAD,H4"}]},"mark":{"type":"text","color":"#404040","font":"Liberation Sans","fontSize":9,"align":"left","baseline":"middle","dx":4,"dy":8},
 "encoding":{"x":{"datum":0,"type":"quantitative","scale":{"domain":[0,329.07],"nice":false,"zero":false}},
  "y":{"datum":1.33658,"type":"quantitative","scale":{"domain":[1.29274,1.33658],"nice":false,"zero":false}},
  "text":{"field":"t"}}}
]
}
